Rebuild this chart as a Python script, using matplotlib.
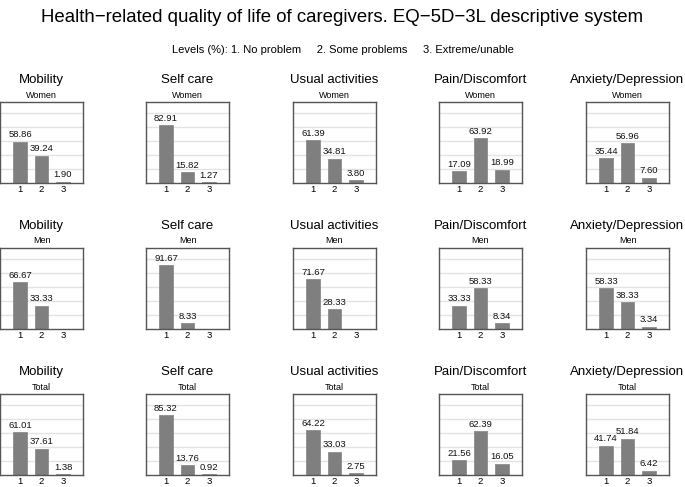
import matplotlib
matplotlib.use("Agg")
import matplotlib.pyplot as plt

plt.rcParams['font.family'] = ['Liberation Sans', 'DejaVu Sans']

title = "Health\u2212related quality of life of caregivers. EQ\u22125D\u22123L descriptive system"
legend_text = "Levels (%): 1. No problem     2. Some problems     3. Extreme/unable"

dimensions = ["Mobility", "Self care", "Usual activities", "Pain/Discomfort", "Anxiety/Depression"]
groups = ["Women", "Men", "Total"]
levels = [1, 2, 3]

women = [
    [58.86, 39.24, 1.90],
    [82.91, 15.82, 1.27],
    [61.39, 34.81, 3.80],
    [17.09, 63.92, 18.99],
    [35.44, 56.96, 7.60],
]
men = [
    [66.67, 33.33, 0.00],
    [91.67, 8.33, 0.00],
    [71.67, 28.33, 0.00],
    [33.33, 58.33, 8.34],
    [58.33, 38.33, 3.34],
]
total = [
    [61.01, 37.61, 1.38],
    [85.32, 13.76, 0.92],
    [64.22, 33.03, 2.75],
    [21.56, 62.39, 16.05],
    [41.74, 51.84, 6.42],
]
data = [women, men, total]

W, H = 685, 487
fig = plt.figure(figsize=(W / 100, H / 100), dpi=100)

col_left = [0, 146, 293, 439, 586]
row_top = [102, 248, 394]
aw, ah = 83, 81

for r, grp in enumerate(groups):
    for c, dim in enumerate(dimensions):
        x0 = col_left[c]
        y0 = row_top[r]
        ax = fig.add_axes([x0 / W, 1 - (y0 + ah) / H, aw / W, ah / H])
        vals = data[r][c]
        ax.set_xlim(0.07, 3.93)
        ax.set_ylim(0, 116)
        for g in [20, 40, 60, 80, 100]:
            ax.axhline(g, color='#e3e3e3', lw=1.0, zorder=0)
        ax.bar(levels, vals, width=0.64, color='#7f7f7f', edgecolor='#8c8c8c', lw=0.6, zorder=2)
        for x, v in zip(levels, vals):
            if v > 0:
                ax.text(x, v + 3.5, f"{v:.2f}", ha='center', va='bottom', fontsize=6.8, color='#111111')
        ax.set_xticks(levels)
        ax.set_xticklabels([str(l) for l in levels], fontsize=6.8)
        ax.tick_params(axis='x', length=0, pad=1.5)
        ax.set_yticks([])
        for s in ax.spines.values():
            s.set_color('#555555')
            s.set_linewidth(1.0)
        cx = (x0 + aw / 2) / W
        fig.text(cx, 1 - (y0 - 22) / H, dim, ha='center', va='center', fontsize=9.5)
        fig.text(cx, 1 - (y0 - 7) / H, grp, ha='center', va='center', fontsize=6.5)

fig.text(0.5, 1 - 18 / H, title, ha='center', va='center', fontsize=13.4)
fig.text(0.5, 1 - 50 / H, legend_text, ha='center', va='center', fontsize=8)

fig.savefig("out.png", dpi=100, facecolor='white')
